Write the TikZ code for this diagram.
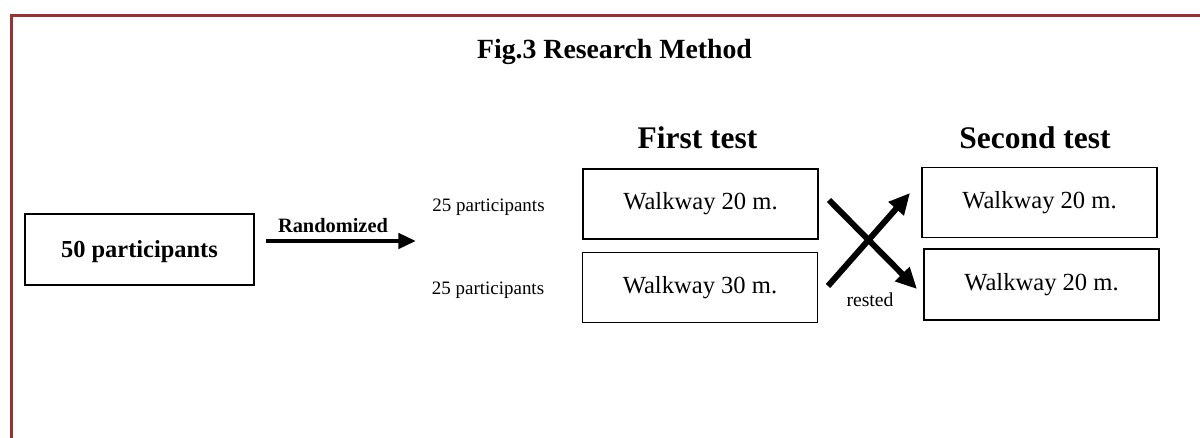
\documentclass[tikz,border=0pt]{standalone}
\usepackage{fontspec}
\setmainfont{Liberation Serif}
\usetikzlibrary{arrows.meta}
\definecolor{framered}{RGB}{153,51,51}
\tikzset{
    bx/.style={draw, line width=1.1pt, inner sep=0pt, minimum width=4.70cm, minimum height=1.40cm, font=\fontsize{14}{16}\selectfont}, % walkway boxes
    hd/.style={font=\bfseries\fontsize{17.9}{21}\selectfont}, % column headings
    sm/.style={font=\fontsize{10.8}{13}\selectfont}, % small labels
    ar/.style={line width=2.8pt, -{Triangle[length=10pt, width=8.5pt]}},
    xar/.style={line width=3.4pt, -{Triangle[length=12pt, width=11pt]}} % crossing arrows
}

\begin{document}
\begin{tikzpicture}[x=0.02cm, y=-0.02cm]
        \useasboundingbox (0,0) rectangle (1200,438);
        \draw[framered, line width=1.8pt] (1200,15.5) -- (11.5,15.5) -- (11.5,438);

        \node[font=\bfseries\fontsize{15.8}{19}\selectfont] (ttl) at (614.5,51.5)
        {Fig.3 Research Method};
        \node[hd] (headFirst) at (697.5,138) {First test};
        \node[hd] (headSecond) at (1035,138) {Second test};

        \node[bx, minimum width=4.58cm, minimum height=1.42cm, text depth=0pt, font=\bfseries\fontsize{13.9}{16}\selectfont] (total) at (139.5,249.5)
        {50 participants};
        \node[sm, font=\bfseries\fontsize{11.6}{14}\selectfont] (randLbl) at (333,226) {Randomized};
        \coordinate (randA) at (266,241);
        \coordinate (randB) at (416,241);

        \node[sm] (groupA) at (488.5,207.6) {25 participants};
        \node[sm] (groupB) at (488,290.6) {25 participants};

        \node[bx] (firstA) at (700.5,204) {Walkway 20 m.};
        \node[bx] (firstB) at (700,287.5) {Walkway 30 m.};
        \node[bx] (secondA) at (1039.5,202.5) {Walkway 20 m.};
        \node[bx, minimum height=1.42cm] (secondB) at (1041.5,284.5) {Walkway 20 m.};

        \coordinate (downA) at (829,200);
        \coordinate (downB) at (917,289);
        \coordinate (upA) at (828,286);
        \coordinate (upB) at (910,193);
        \node[sm, font=\fontsize{11.2}{13}\selectfont] (rest) at (870,300) {rested};

        \draw[ar] (randA) -- (randB);
        \draw[xar] (downA) -- (downB);
        \draw[xar] (upA) -- (upB);
      \end{tikzpicture}
\end{document}
